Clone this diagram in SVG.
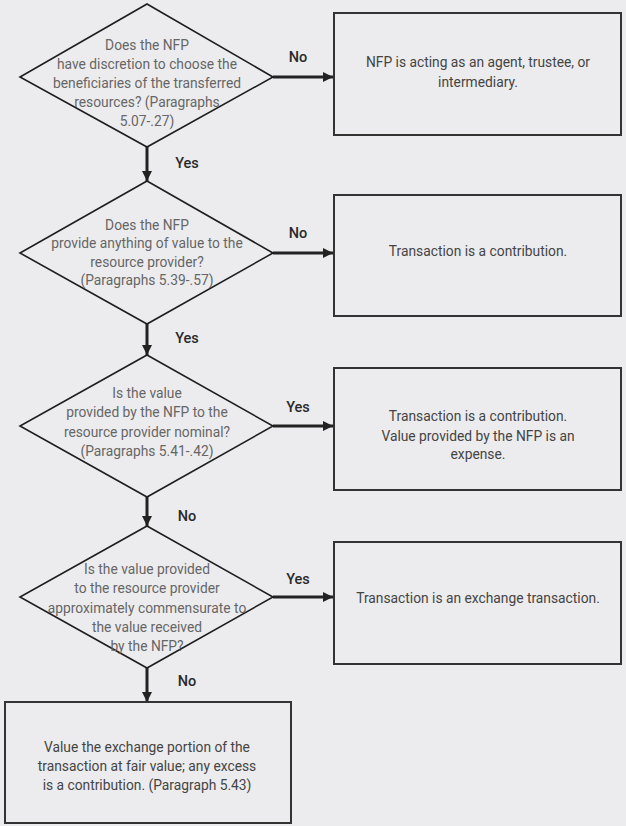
<svg xmlns="http://www.w3.org/2000/svg" width="626" height="826" viewBox="0 0 626 826">
<style>
.bg{fill:#ececee}
.dia{fill:none;stroke:#1e1e1e;stroke-width:1.6}
.box{fill:none;stroke:#333;stroke-width:2}
.q{font-family:Roboto,"Liberation Sans",sans-serif;font-size:13.8px;fill:#666;text-anchor:middle}
.t{font-family:Roboto,"Liberation Sans",sans-serif;font-size:13.8px;fill:#444;text-anchor:middle}
.lbl{font-family:Roboto,"Liberation Sans",sans-serif;font-size:14.5px;font-weight:500;fill:#2a2a2a;text-anchor:middle}
.con{stroke:#222;stroke-width:3;fill:none}
</style>
<defs>
<marker id="ah" viewBox="0 0 10 10" refX="10" refY="5" markerWidth="3.4" markerHeight="3.4" orient="auto" markerUnits="strokeWidth">
<path d="M0,0 L10,5 L0,10 z" fill="#222"/>
</marker>
</defs>
<rect class="bg" x="0" y="0" width="626" height="826"/>

<g id="connectors">
<line class="con" x1="273" y1="77" x2="333" y2="77" marker-end="url(#ah)"/>
<line class="con" x1="147" y1="147" x2="147" y2="181" marker-end="url(#ah)"/>
<line class="con" x1="273" y1="253" x2="333" y2="253" marker-end="url(#ah)"/>
<line class="con" x1="147" y1="324" x2="147" y2="355" marker-end="url(#ah)"/>
<line class="con" x1="273" y1="426" x2="333" y2="426" marker-end="url(#ah)"/>
<line class="con" x1="147" y1="497" x2="147" y2="526" marker-end="url(#ah)"/>
<line class="con" x1="273" y1="597" x2="333" y2="597" marker-end="url(#ah)"/>
<line class="con" x1="147" y1="668" x2="147" y2="702" marker-end="url(#ah)"/>
<text class="lbl" x="298" y="62">No</text>
<text class="lbl" x="187" y="168">Yes</text>
<text class="lbl" x="298" y="238">No</text>
<text class="lbl" x="187" y="343">Yes</text>
<text class="lbl" x="298" y="412">Yes</text>
<text class="lbl" x="187" y="521">No</text>
<text class="lbl" x="298" y="584">Yes</text>
<text class="lbl" x="187" y="686">No</text>
</g>

<g id="d1">
<polygon class="dia" points="147,4 273,77 147,147 20,77"/>
<text class="q" x="147" y="50">Does the NFP</text>
<text class="q" x="147" y="69">have discretion to choose the</text>
<text class="q" x="147" y="88">beneficiaries of the transferred</text>
<text class="q" x="147" y="107">resources? (Paragraphs</text>
<text class="q" x="147" y="126">5.07-.27)</text>
</g>

<g id="b1">
<rect class="box" x="334" y="13" width="287" height="122"/>
<text class="t" x="478" y="67">NFP is acting as an agent, trustee, or</text>
<text class="t" x="478" y="87">intermediary.</text>
</g>

<g id="d2">
<polygon class="dia" points="147,181 273,253 147,324 20,253"/>
<text class="q" x="147" y="230">Does the NFP</text>
<text class="q" x="147" y="248">provide anything of value to the</text>
<text class="q" x="147" y="267">resource provider?</text>
<text class="q" x="147" y="285">(Paragraphs 5.39-.57)</text>
</g>

<g id="b2">
<rect class="box" x="334" y="195" width="287" height="121"/>
<text class="t" x="478" y="256">Transaction is a contribution.</text>
</g>

<g id="d3">
<polygon class="dia" points="147,355 273,426 147,497 20,426"/>
<text class="q" x="147" y="398">Is the value</text>
<text class="q" x="147" y="417">provided by the NFP to the</text>
<text class="q" x="147" y="437">resource provider nominal?</text>
<text class="q" x="147" y="456">(Paragraphs 5.41-.42)</text>
</g>

<g id="b3">
<rect class="box" x="334" y="368" width="287" height="122"/>
<text class="t" x="478" y="421">Transaction is a contribution.</text>
<text class="t" x="478" y="441">Value provided by the NFP is an</text>
<text class="t" x="478" y="459">expense.</text>
</g>

<g id="d4">
<polygon class="dia" points="147,526 273,597 147,668 20,597"/>
<text class="q" x="147" y="574">Is the value provided</text>
<text class="q" x="147" y="593">to the resource provider</text>
<text class="q" x="147" y="613">approximately commensurate to</text>
<text class="q" x="147" y="632">the value received</text>
<text class="q" x="147" y="651">by the NFP?</text>
</g>

<g id="b4">
<rect class="box" x="334" y="542" width="287" height="122"/>
<text class="t" x="478" y="603">Transaction is an exchange transaction.</text>
</g>

<g id="b5">
<rect class="box" x="5" y="702" width="286" height="121"/>
<text class="t" x="147" y="752">Value the exchange portion of the</text>
<text class="t" x="147" y="771">transaction at fair value; any excess</text>
<text class="t" x="147" y="790">is a contribution. (Paragraph 5.43)</text>
</g>
</svg>
